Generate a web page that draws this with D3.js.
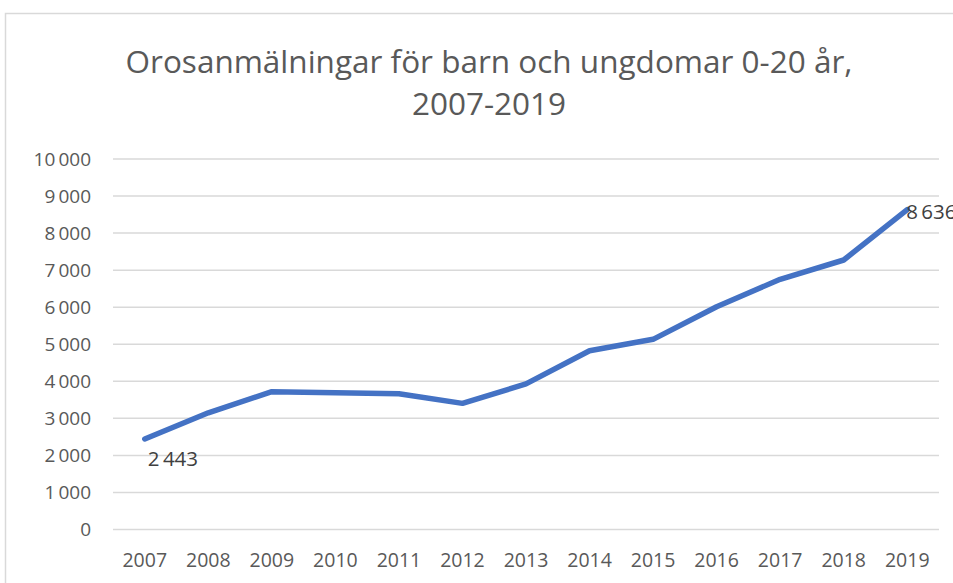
<!DOCTYPE html>
<html>
<head>
<meta charset="utf-8">
<script src="https://cdn.jsdelivr.net/npm/d3@7"></script>
<style>
  body { margin: 0; background: #fff; }
  svg { display: block; font-family: "Open Sans", sans-serif; }
</style>
</head>
<body>
<div id="chart"></div>
<script>
// data
var years = ["2007", "2008", "2009", "2010", "2011", "2012", "2013",
             "2014", "2015", "2016", "2017", "2018", "2019"];
var reports = [2443, 3150, 3720, 3690, 3665, 3405, 3930,
               4826, 5133, 6014, 6753, 7274, 8636];
var yTicks = [0, 1000, 2000, 3000, 4000, 5000, 6000, 7000, 8000, 9000, 10000];
var titleLines = ["Orosanmälningar för barn och ungdomar 0-20 år,", "2007-2019"];

var width = 953;
var height = 583;
var margin = { top: 159, right: 14, bottom: 53, left: 113 };

var svg = d3.select("#chart")
    .append("svg")
    .attr("width", width)
    .attr("height", height)

// chart frame (only left/top visible in the crop)
svg.append("rect")
    .attr("x", 5.5)
    .attr("y", 13.5)
    .attr("width", width + 20)
    .attr("height", height + 20)
    .attr("fill", "none")
    .attr("stroke", "#d9d9d9")
    .attr("stroke-width", 1.5)

// swedish style numbers: "10 000"
var se = d3.formatLocale({ decimal: ",", thousands: "\u2009", grouping: [3], currency: ["", " kr"] });
var fmt = se.format(",d");

var x = d3.scaleBand()
    .domain(years)
    .range([margin.left, width - margin.right])

var y = d3.scaleLinear()
    .domain([0, 10000])
    .range([height - margin.bottom - 0.5, margin.top])

// title
svg.append("g")
    .selectAll("text")
    .data(titleLines)
    .enter().append("text")
    .attr("x", 489)
    .attr("y", function (d, i) { return 73 + i * 42; })
    .attr("text-anchor", "middle")
    .attr("fill", "#595959")
    .attr("font-size", 31.5)
    .text(function (d) { return d; })

// gridlines
svg.append("g")
    .selectAll("line")
    .data(yTicks)
    .enter().append("line")
    .attr("x1", margin.left)
    .attr("x2", width - margin.right)
    .attr("y1", function (d) { return y(d); })
    .attr("y2", function (d) { return y(d); })
    .attr("stroke", "#d9d9d9")
    .attr("stroke-width", 1.5)

// y axis labels
var yAxis = svg.append("g")
    .attr("transform", "translate(" + (margin.left - 22) + ",0)")
    .call(d3.axisLeft(y).tickValues(yTicks).tickFormat(fmt).tickSize(0).tickPadding(0))
yAxis.select(".domain").remove()
yAxis.selectAll("text")
    .attr("fill", "#595959")
    .attr("font-size", 19)
    .attr("font-family", "Open Sans, sans-serif")

// x axis labels
var xAxis = svg.append("g")
    .attr("transform", "translate(0," + (height - margin.bottom + 20) + ")")
    .call(d3.axisBottom(x).tickSize(0))
xAxis.select(".domain").remove()
xAxis.selectAll("text")
    .attr("fill", "#595959")
    .attr("font-size", 19.5)
    .attr("font-family", "Open Sans, sans-serif")

// the line
var line = d3.line()
    .x(function (d, i) { return x(years[i]) + x.bandwidth() / 2; })
    .y(function (d) { return y(d); })

svg.append("path")
    .datum(reports)
    .attr("d", line)
    .attr("fill", "none")
    .attr("stroke", "#4472c4")
    .attr("stroke-width", 5.5)
    .attr("stroke-linecap", "round")
    .attr("stroke-linejoin", "round")

// data labels for first and last point
var first = 0, last = reports.length - 1;
svg.append("text")
    .attr("x", x(years[first]) + x.bandwidth() / 2 + 3)
    .attr("y", y(reports[first]) + 27)
    .attr("fill", "#404040")
    .attr("font-size", 20.5)
    .text(fmt(reports[first]))

// the last label runs past the right edge, as in the source picture
svg.append("text")
    .attr("x", x(years[last]) + x.bandwidth() / 2 - 1)
    .attr("y", y(reports[last]) + 9)
    .attr("fill", "#404040")
    .attr("font-size", 20.5)
    .text(fmt(reports[last]))
</script>
</body>
</html>
